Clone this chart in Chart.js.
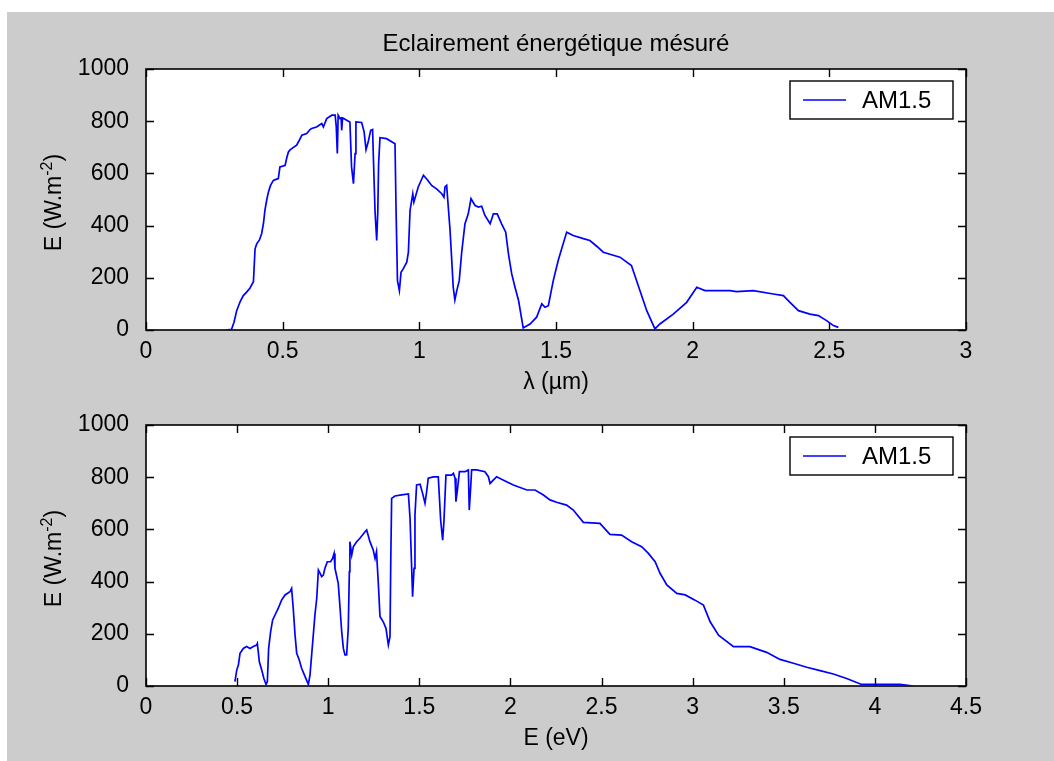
<!DOCTYPE html>
<html>
<head>
<meta charset="utf-8">
<script src="https://cdn.jsdelivr.net/npm/chart.js@4.4.1/dist/chart.umd.min.js"></script>
<style>
    html, body { margin: 0; padding: 0; background: #fff; }
    body { width: 1054px; height: 761px; position: relative; overflow: hidden; }
    #figure { position: absolute; left: 7px; top: 12px; right: 0; bottom: 0; background: #cccccc; }
    canvas { position: absolute; left: 0; }
    #top-chart { top: 0; }
    #bottom-chart { top: 400px; }
</style>
</head>
<body>
<div id="figure"></div>
<canvas id="top-chart" width="1054" height="400"></canvas>
<canvas id="bottom-chart" width="1054" height="361"></canvas>
<script>
// Spectrum vs wavelength (top plot)
const wavelength = [
    0.293, 0.313, 0.322, 0.332, 0.345, 0.356, 0.368, 0.380, 0.393, 0.399, 0.405, 0.415, 0.423, 0.430, 0.435,
    0.442, 0.448, 0.456, 0.466, 0.478, 0.484, 0.490, 0.500, 0.509, 0.515, 0.521, 0.527, 0.533, 0.551, 0.560,
    0.570, 0.588, 0.600, 0.606, 0.624, 0.643, 0.649, 0.661, 0.680, 0.692, 0.696, 0.700, 0.703, 0.710, 0.714,
    0.716, 0.719, 0.724, 0.734, 0.746, 0.752, 0.759, 0.765, 0.768, 0.789, 0.798, 0.805, 0.813, 0.822, 0.829,
    0.832, 0.838, 0.844, 0.848, 0.851, 0.856, 0.880, 0.911, 0.915, 0.920, 0.927, 0.933, 0.941, 0.954, 0.960,
    0.966, 0.976, 0.980, 0.996, 1.015, 1.030, 1.045, 1.063, 1.082, 1.090, 1.094, 1.100, 1.104, 1.112, 1.118,
    1.124, 1.130, 1.137, 1.146, 1.155, 1.167, 1.179, 1.189, 1.204, 1.216, 1.228, 1.240, 1.259, 1.271, 1.285,
    1.301, 1.316, 1.326, 1.338, 1.350, 1.363, 1.380, 1.405, 1.429, 1.448, 1.460, 1.472, 1.490, 1.508, 1.539,
    1.563, 1.600, 1.624, 1.650, 1.673, 1.734, 1.776, 1.807, 1.832, 1.862, 1.880, 1.929, 1.978, 2.015, 2.045,
    2.137, 2.160, 2.222, 2.295, 2.332, 2.356, 2.387, 2.429, 2.460, 2.490, 2.515, 2.533
];
const irradiance_wl = [
    0, 3, 30, 75, 110, 132, 145, 160, 185, 311, 330, 345, 369, 410, 458,
    500, 529, 555, 573, 578, 580, 625, 628, 631, 660, 682, 690, 695, 708, 725,
    746, 753, 768, 772, 778, 791, 778, 810, 823, 823, 780, 676, 823, 810, 812,
    765, 812, 810, 804, 797, 625, 561, 676, 797, 795, 759, 691, 721, 765, 768,
    657, 452, 343, 452, 637, 737, 733, 714, 452, 189, 151, 221, 234, 260, 298,
    458, 522, 490, 548, 593, 575, 554, 541, 522, 509, 548, 554, 497, 388, 279,
    164, 115, 151, 189, 298, 407, 445, 503, 477, 471, 474, 439, 407, 445, 445,
    407, 375, 292, 215, 164, 113, 8, 23, 49, 100, 87, 93, 189, 266, 375,
    362, 350, 343, 320, 298, 279, 247, 151, 74, 4, 23, 61, 106, 164, 151,
    151, 147, 151, 138, 132, 106, 74, 61, 55, 36, 17, 10
];

// Spectrum vs photon energy (bottom plot)
const photon_energy = [
    0.488, 0.498, 0.507, 0.516, 0.534, 0.552, 0.571, 0.589, 0.607, 0.611, 0.622, 0.635, 0.647, 0.659, 0.666,
    0.673, 0.684, 0.695, 0.708, 0.726, 0.744, 0.763, 0.790, 0.799, 0.808, 0.818, 0.827, 0.841, 0.854, 0.873,
    0.891, 0.900, 0.909, 0.918, 0.927, 0.937, 0.946, 0.955, 0.964, 0.973, 0.982, 0.995, 1.013, 1.024, 1.032,
    1.037, 1.055, 1.065, 1.074, 1.083, 1.092, 1.101, 1.110, 1.116, 1.119, 1.129, 1.138, 1.156, 1.174, 1.202,
    1.211, 1.229, 1.247, 1.257, 1.265, 1.275, 1.284, 1.302, 1.317, 1.330, 1.339, 1.343, 1.348, 1.366, 1.403,
    1.440, 1.449, 1.458, 1.463, 1.471, 1.476, 1.485, 1.504, 1.518, 1.531, 1.540, 1.549, 1.577, 1.604, 1.617,
    1.628, 1.635, 1.646, 1.677, 1.687, 1.696, 1.701, 1.709, 1.720, 1.751, 1.769, 1.774, 1.782, 1.787, 1.815,
    1.860, 1.879, 1.888, 1.906, 1.924, 1.979, 2.016, 2.090, 2.135, 2.181, 2.217, 2.253, 2.308, 2.345, 2.400,
    2.491, 2.546, 2.610, 2.665, 2.720, 2.757, 2.794, 2.821, 2.858, 2.913, 2.959, 3.013, 3.059, 3.096, 3.142,
    3.224, 3.314, 3.406, 3.479, 3.553, 3.626, 3.699, 3.772, 3.845, 3.927, 3.991, 4.138, 4.211
];
const irradiance_ev = [
    17, 61, 80, 125, 144, 151, 144, 151, 157, 163, 93, 61, 29, 6, 17,
    144, 208, 253, 272, 298, 329, 349, 361, 374, 298, 195, 125, 100, 68, 36,
    6, 42, 119, 195, 272, 336, 444, 432, 419, 425, 451, 476, 476, 489, 508,
    451, 393, 298, 208, 144, 119, 119, 221, 438, 553, 502, 534, 553, 566, 591,
    598, 553, 521, 489, 515, 393, 266, 246, 221, 157, 189, 464, 719, 728, 732,
    736, 642, 451, 342, 451, 655, 770, 773, 738, 700, 744, 796, 801, 801, 636,
    559, 630, 808, 808, 815, 796, 706, 751, 821, 821, 828, 674, 764, 828, 828,
    821, 802, 776, 789, 802, 783, 770, 751, 751, 732, 713, 704, 693, 674, 627,
    623, 581, 578, 553, 534, 508, 476, 432, 387, 355, 349, 329, 310, 246, 195,
    151, 151, 129, 102, 87, 72, 59, 46, 29, 6, 6, 6, 0
];

// Tick values
const x_ticks_wl = [0, 0.5, 1, 1.5, 2, 2.5, 3];
const x_ticks_ev = [0, 0.5, 1, 1.5, 2, 2.5, 3, 3.5, 4, 4.5];
const y_ticks = [0, 200, 400, 600, 800, 1000];

const FONT = '"Liberation Sans", Arial, Helvetica, sans-serif';
const series_label = 'AM1.5';

Chart.defaults.color = '#000';
Chart.defaults.font.family = FONT;

// white plot background, box and inward ticks like matlab axes
const matlabAxes = {
    id: 'matlabAxes',
    beforeDatasetsDraw(chart) {
        const { ctx, chartArea: a, scales } = chart;
        ctx.save();
        ctx.fillStyle = '#fff';
        ctx.fillRect(a.left, a.top, a.right - a.left, a.bottom - a.top);
        ctx.strokeStyle = '#000';
        ctx.lineWidth = 1.4;
        ctx.beginPath();
        scales.x.ticks.forEach(t => {
            const px = Math.round(scales.x.getPixelForValue(t.value)) + 0.5;
            ctx.moveTo(px, a.bottom); ctx.lineTo(px, a.bottom - 8);
            ctx.moveTo(px, a.top); ctx.lineTo(px, a.top + 8);
        });
        scales.y.ticks.forEach(t => {
            const py = Math.round(scales.y.getPixelForValue(t.value)) + 0.5;
            ctx.moveTo(a.left, py); ctx.lineTo(a.left + 8, py);
            ctx.moveTo(a.right, py); ctx.lineTo(a.right - 8, py);
        });
        ctx.stroke();
        ctx.lineWidth = 1.6;
        ctx.strokeRect(a.left, a.top, a.right - a.left, a.bottom - a.top);
        ctx.restore();
    },
    afterDraw(chart) {
        const { ctx, chartArea: a } = chart;
        ctx.save();
        // y axis title with superscript
        ctx.translate(a.left - 91, (a.top + a.bottom) / 2 + 3);
        ctx.rotate(-Math.PI / 2);
        ctx.textBaseline = 'middle';
        ctx.fillStyle = '#000';
        const big = '23px ' + FONT, small = '16px ' + FONT;
        ctx.font = big;
        const w1 = ctx.measureText('E (W.m').width;
        const w3 = ctx.measureText(')').width;
        ctx.font = small;
        const w2 = ctx.measureText('-2').width;
        let x = -(w1 + w2 + w3) / 2;
        ctx.font = big;
        ctx.fillText('E (W.m', x, 0); x += w1;
        ctx.font = small;
        ctx.fillText('-2', x, -7); x += w2;
        ctx.font = big;
        ctx.fillText(')', x, 0);
        ctx.restore();

        // legend box
        const label = chart.data.datasets[0].label;
        const bx = a.right - 176, by = a.top + 12, bw = 163, bh = 38;
        ctx.save();
        ctx.fillStyle = '#fff';
        ctx.fillRect(bx, by, bw, bh);
        ctx.strokeStyle = '#000';
        ctx.lineWidth = 1.4;
        ctx.strokeRect(bx, by, bw, bh);
        ctx.strokeStyle = chart.data.datasets[0].borderColor;
        ctx.lineWidth = 1.5;
        ctx.beginPath();
        ctx.moveTo(bx + 13, by + bh / 2);
        ctx.lineTo(bx + 56, by + bh / 2);
        ctx.stroke();
        ctx.fillStyle = '#000';
        ctx.font = '24px ' + FONT;
        ctx.textBaseline = 'middle';
        ctx.fillText(label, bx + 72, by + bh / 2 + 1);
        ctx.restore();
    }
};

function create_spectrum_chart(elementId, xs, ys, x_ticks, x_max, x_title, opts) {
    return new Chart(document.getElementById(elementId).getContext('2d'), {
        type: 'line',
        data: {
            datasets: [{
                label: series_label,
                data: xs.map((v, i) => ({ x: v, y: ys[i] })),
                borderColor: '#0000ff',
                borderWidth: 1.7,
                pointRadius: 0,
                tension: 0,
                fill: false
            }]
        },
        options: {
            responsive: false,
            animation: false,
            devicePixelRatio: 1,
            events: [],
            layout: { padding: { left: 26, right: 88, top: opts.padTop, bottom: 0 } },
            plugins: {
                legend: { display: false },
                tooltip: { enabled: false },
                title: {
                    display: !!opts.title,
                    text: opts.title || '',
                    fullSize: false,
                    font: { size: 24, weight: 'normal' },
                    padding: { top: 29.6, bottom: 10.6 }
                }
            },
            scales: {
                x: {
                    type: 'linear',
                    min: 0,
                    max: x_max,
                    grid: { display: false },
                    border: { display: false },
                    afterBuildTicks: scale => { scale.ticks = x_ticks.map(v => ({ value: v })); },
                    afterFit: scale => { scale.height = opts.xHeight; },
                    ticks: {
                        autoSkip: false,
                        maxRotation: 0,
                        padding: 0,
                        font: { size: 23 },
                        callback: v => String(v)
                    },
                    title: {
                        display: true,
                        text: x_title,
                        font: { size: 23 },
                        padding: { top: 0, bottom: opts.xTitlePad }
                    }
                },
                y: {
                    min: 0,
                    max: 1000,
                    grid: { display: false },
                    border: { display: false },
                    afterBuildTicks: scale => { scale.ticks = y_ticks.map(v => ({ value: v })); },
                    afterFit: scale => { scale.width = 120; },
                    ticks: {
                        padding: 9,
                        font: { size: 23 },
                        callback: v => String(v)
                    }
                }
            }
        },
        plugins: [matlabAxes]
    });
}

const wl_chart = create_spectrum_chart('top-chart', wavelength, irradiance_wl, x_ticks_wl, 3, 'λ (µm)',
    { title: 'Eclairement énergétique mésuré', padTop: 0, xHeight: 70, xTitlePad: 3.6 });
const ev_chart = create_spectrum_chart('bottom-chart', photon_energy, irradiance_ev, x_ticks_ev, 4.5, 'E (eV)',
    { padTop: 25, xHeight: 75, xTitlePad: 8.6 });
</script>
</body>
</html>
